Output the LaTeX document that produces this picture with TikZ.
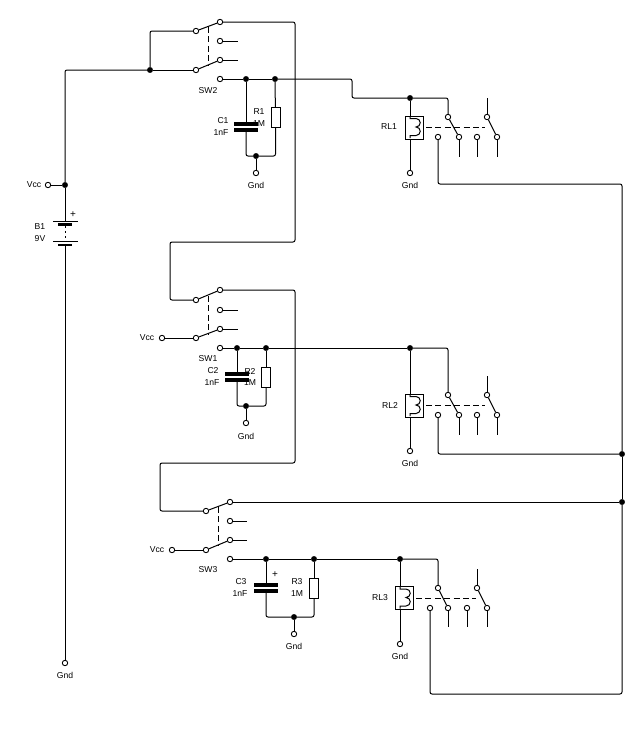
\documentclass[tikz,border=0pt]{standalone}
\usepackage{fontspec}
\setmainfont{Liberation Sans}
\usepackage{tikz}
\tikzstyle{term} = [draw, line width=0.9pt, circle, fill=white, inner sep=0pt, minimum size=5.4pt]
\tikzstyle{junc} = [draw, circle, fill=black, inner sep=0pt, minimum size=5.4pt]
\tikzstyle{output} = [coordinate]
\tikzstyle{wire} = [line width=1pt, rounded corners=2pt]
\tikzstyle{link} = [line width=1pt, dash pattern=on 6pt off 3.4pt]
\tikzstyle{res} = [draw, line width=1pt, rectangle, inner sep=0pt, minimum width=9pt, minimum height=20pt]
\tikzstyle{relay} = [draw, line width=1pt, rectangle, inner sep=0pt, minimum width=18pt, minimum height=23pt]
\tikzstyle{plate} = [fill=black, rectangle, inner sep=0pt, outer sep=0pt, minimum width=24pt, minimum height=3.2pt]
\tikzstyle{longcell} = [fill=black, rectangle, inner sep=0pt, outer sep=0pt, minimum width=25pt, minimum height=1pt]
\tikzstyle{shortcell} = [fill=black, rectangle, inner sep=0pt, outer sep=0pt, minimum width=14pt, minimum height=2.6pt]
\tikzstyle{txt} = [inner sep=0pt, font=\fontsize{8.6}{9}\selectfont]
\newcommand{\coil}[3]{\draw [wire, rounded corners=0pt] (#1,#2) -- ++(0,2.5) -- ++(6,0)
    arc [start angle=-90, end angle=90, radius=#3] arc [start angle=-90, end angle=90, radius=#3] -- ++(-6,0) -- ++(0,2.5);}

\begin{document}
\begin{tikzpicture}[x=1pt, y=-1pt]
    \useasboundingbox (0,0) rectangle (640,736);
    % Battery and its supply rail
    \node [term] (vcca) at (48,185) {};
    \node [junc] (vccdot) at (65,185) {};
    \node [longcell] (b1a) at (65,221) {};
    \node [shortcell] (b1b) at (65,224.5) {};
    \node [longcell] (b1c) at (65,241) {};
    \node [shortcell] (b1d) at (65,245) {};
    \node [term] (gnda) at (65,663) {};
    \node [output] (railtop) at (65,70) {};
    \draw [wire] (vcca) -- (vccdot);
    \draw [wire] (vccdot) -- (railtop) -- (150,70);
    \draw [wire] (vccdot) -- (b1a);
    \draw [link, dash pattern=on 2.5pt off 2.5pt] (b1b) -- (b1c);
    \draw [wire] (b1d) -- (gnda);
    \node [txt] (vcclbla) at (34,185) {Vcc};
    \node [txt, font=\fontsize{10}{10}\selectfont] (pluslbla) at (73,215) {+};
    \node [txt] (b1lbl) at (40,226.5) {B1};
    \node [txt] (b1val) at (40,239) {9V};
    \node [txt] (gndlbla) at (65,675.5) {Gnd};

    % Switch SW2 with C1 and R1
    \node [junc] (sw2in) at (150,70) {};
    \node [term] (sw2a) at (196,31) {};
    \node [term] (sw2b) at (220,22) {};
    \node [term] (sw2c) at (220,41) {};
    \node [term] (sw2d) at (196,70) {};
    \node [term] (sw2e) at (220,60) {};
    \node [term] (sw2f) at (220,79) {};
    \node [output] (sw2cend) at (238,41) {};
    \node [output] (sw2eend) at (238,60) {};
    \node [output] (sw2linka) at (208,27) {};
    \node [output] (sw2linkb) at (208,65) {};
    \node [junc] (c1dot) at (246,79) {};
    \node [junc] (r1dot) at (275,79) {};
    \node [plate] (c1a) at (246,124) {};
    \node [plate] (c1b) at (246,130) {};
    \node [res] (r1) at (275.5,117.5) {};
    \node [junc] (sw2low) at (256,156) {};
    \node [term] (gndb) at (256,173) {};
    \draw [wire] (sw2in) -- (sw2d);
    \draw [wire] (sw2in) |- (sw2a);
    \draw [wire] (sw2a) -- (sw2b);
    \draw [wire] (sw2d) -- (sw2e);
    \draw [wire] (sw2c) -- (sw2cend);
    \draw [wire] (sw2e) -- (sw2eend);
    \draw [link] (sw2linka) -- (sw2linkb);
    \draw [wire] (sw2f) -- (c1dot);
    \draw [wire] (c1dot) -- (r1dot);
    \draw [wire] (c1dot) -- (c1a);
    \draw [wire] (c1b) |- (sw2low);
    \draw [wire] (r1dot) -- (r1);
    \draw [wire] (r1) |- (sw2low);
    \draw [wire] (sw2low) -- (gndb);
    \node [txt] (sw2lbl) at (208,90.5) {SW2};
    \node [txt] (c1lbl) at (223,120.5) {C1};
    \node [txt] (c1val) at (221,133) {1nF};
    \node [txt] (r1lbl) at (259,112) {R1};
    \node [txt] (r1val) at (259,124) {1M};
    \node [txt] (gndlblb) at (256,185.5) {Gnd};

    % Relay RL1
    \node [junc] (rl1dot) at (410,98) {};
    \node [relay] (rl1) at (414,127.5) {};
    \node [term] (gndc) at (410,173) {};
    \node [term] (rl1a) at (448,117) {};
    \node [term] (rl1b) at (459,137) {};
    \node [term] (rl1c) at (438,137) {};
    \node [term] (rl1d) at (477,137) {};
    \node [term] (rl1e) at (487,117) {};
    \node [term] (rl1f) at (497,137) {};
    \node [output] (rl1linka) at (426,127) {};
    \node [output] (rl1linkb) at (485,127) {};
    \node [output] (rl1corner) at (622,184) {};
    \node [output] (rl1etop) at (487,98) {};
    \node [output] (rl1bend) at (459,157) {};
    \node [output] (rl1dend) at (477,157) {};
    \node [output] (rl1fend) at (497,157) {};
    \node [output] (sw2stepa) at (352,79) {};
    \node [output] (sw2stepb) at (352,98) {};
    \draw [wire] (r1dot) -- (sw2stepa) -- (sw2stepb) -- (rl1dot);
    \draw [wire] (rl1dot) -| (rl1a);
    \draw [wire] (rl1dot) -- (rl1dot |- rl1.north);
    \coil{410}{116}{4.25}
    \draw [wire] (rl1dot |- rl1.south) -- (gndc);
    \draw [wire] (rl1a) -- (rl1b);
    \draw [wire] (rl1e) -- (rl1f);
    \draw [wire] (rl1e) -- (rl1etop);
    \draw [wire] (rl1b) -- (rl1bend);
    \draw [wire] (rl1d) -- (rl1dend);
    \draw [wire] (rl1f) -- (rl1fend);
    \draw [link] (rl1linka) -- (rl1linkb);
    \node [txt] (rl1lbl) at (389,127) {RL1};
    \node [txt] (gndlblc) at (410,185.5) {Gnd};

    % Switch SW1 with C2 and R2
    \node [term] (sw1a) at (196,300) {};
    \node [term] (sw1b) at (220,290) {};
    \node [term] (sw1c) at (220,310) {};
    \node [term] (sw1d) at (196,338) {};
    \node [term] (sw1e) at (220,329) {};
    \node [term] (sw1f) at (220,348) {};
    \node [term] (vccb) at (162,338) {};
    \node [output] (sw1cend) at (238,310) {};
    \node [output] (sw1eend) at (238,329) {};
    \node [output] (sw1linka) at (208,296) {};
    \node [output] (sw1linkb) at (208,334) {};
    \node [junc] (c2dot) at (237,348) {};
    \node [junc] (r2dot) at (266,348) {};
    \node [plate] (c2a) at (237,374) {};
    \node [plate] (c2b) at (237,380) {};
    \node [res] (r2) at (266,377) {};
    \node [junc] (sw1low) at (246,406) {};
    \node [term] (gndd) at (246,423) {};
    \node [output] (sw2runa) at (295,22) {};
    \node [output] (sw2runb) at (295,242) {};
    \node [output] (sw2runc) at (170,242) {};
    \node [output] (sw2rund) at (170,300) {};
    \draw [wire] (sw2b) -- (sw2runa) -- (sw2runb) -- (sw2runc) -- (sw2rund) -- (sw1a);
    \draw [wire] (sw1a) -- (sw1b);
    \draw [wire] (vccb) -- (sw1d);
    \draw [wire] (sw1d) -- (sw1e);
    \draw [wire] (sw1c) -- (sw1cend);
    \draw [wire] (sw1e) -- (sw1eend);
    \draw [link] (sw1linka) -- (sw1linkb);
    \draw [wire] (sw1f) -- (c2dot);
    \draw [wire] (c2dot) -- (r2dot);
    \draw [wire] (c2dot) -- (c2a);
    \draw [wire] (c2b) |- (sw1low);
    \draw [wire] (r2dot) -- (r2);
    \draw [wire] (r2) |- (sw1low);
    \draw [wire] (sw1low) -- (gndd);
    \node [txt] (vcclblb) at (147,338) {Vcc};
    \node [txt] (sw1lbl) at (208,359) {SW1};
    \node [txt] (c2lbl) at (213,371) {C2};
    \node [txt] (c2val) at (212,383) {1nF};
    \node [txt] (r2lbl) at (250,371) {R2};
    \node [txt] (r2val) at (250,383) {1M};
    \node [txt] (gndlbld) at (246,436) {Gnd};

    % Relay RL2
    \node [junc] (rl2dot) at (410,348) {};
    \node [relay] (rl2) at (414,405.5) {};
    \node [term] (gnde) at (410,451) {};
    \node [term] (rl2a) at (448,395) {};
    \node [term] (rl2b) at (459,415) {};
    \node [term] (rl2c) at (438,415) {};
    \node [term] (rl2d) at (477,415) {};
    \node [term] (rl2e) at (487,395) {};
    \node [term] (rl2f) at (497,415) {};
    \node [output] (rl2linka) at (426,405) {};
    \node [output] (rl2linkb) at (485,405) {};
    \node [output] (rl2etop) at (487,376) {};
    \node [output] (rl2bend) at (459,435) {};
    \node [output] (rl2dend) at (477,435) {};
    \node [output] (rl2fend) at (497,435) {};
    \draw [wire] (r2dot) -- (rl2dot);
    \draw [wire] (rl2dot) -| (rl2a);
    \draw [wire] (rl2dot) -- (rl2dot |- rl2.north);
    \coil{410}{394}{4.25}
    \draw [wire] (rl2dot |- rl2.south) -- (gnde);
    \draw [wire] (rl2a) -- (rl2b);
    \draw [wire] (rl2e) -- (rl2f);
    \draw [wire] (rl2e) -- (rl2etop);
    \draw [wire] (rl2b) -- (rl2bend);
    \draw [wire] (rl2d) -- (rl2dend);
    \draw [wire] (rl2f) -- (rl2fend);
    \draw [link] (rl2linka) -- (rl2linkb);
    \node [txt] (rl2lbl) at (390,405) {RL2};
    \node [txt] (gndlble) at (410,463.5) {Gnd};

    % Switch SW3 with C3 and R3
    \node [term] (sw3a) at (206,511) {};
    \node [term] (sw3b) at (230,502) {};
    \node [term] (sw3c) at (230,521) {};
    \node [term] (sw3d) at (206,550) {};
    \node [term] (sw3e) at (230,540) {};
    \node [term] (sw3f) at (230,559) {};
    \node [term] (vccc) at (172,550) {};
    \node [output] (sw3cend) at (247,521) {};
    \node [output] (sw3eend) at (247,540) {};
    \node [output] (sw3linka) at (218,507) {};
    \node [output] (sw3linkb) at (218,545) {};
    \node [junc] (c3dot) at (266,559) {};
    \node [junc] (r3dot) at (314,559) {};
    \node [plate] (c3a) at (266,585) {};
    \node [plate] (c3b) at (266,591) {};
    \node [res] (r3) at (314,588) {};
    \node [junc] (sw3low) at (294,617) {};
    \node [term] (gndf) at (294,634) {};
    \node [output] (sw1runa) at (295,290) {};
    \node [output] (sw1runb) at (295,463) {};
    \node [output] (sw1runc) at (160,463) {};
    \node [output] (sw1rund) at (160,511) {};
    \draw [wire] (sw1b) -- (sw1runa) -- (sw1runb) -- (sw1runc) -- (sw1rund) -- (sw3a);
    \draw [wire] (sw3a) -- (sw3b);
    \draw [wire] (vccc) -- (sw3d);
    \draw [wire] (sw3d) -- (sw3e);
    \draw [wire] (sw3c) -- (sw3cend);
    \draw [wire] (sw3e) -- (sw3eend);
    \draw [link] (sw3linka) -- (sw3linkb);
    \draw [wire] (sw3f) -- (c3dot);
    \draw [wire] (c3dot) -- (r3dot);
    \draw [wire] (c3dot) -- (c3a);
    \draw [wire] (c3b) |- (sw3low);
    \draw [wire] (r3dot) -- (r3);
    \draw [wire] (r3) |- (sw3low);
    \draw [wire] (sw3low) -- (gndf);
    \node [txt] (vcclblc) at (157,550) {Vcc};
    \node [txt] (sw3lbl) at (208,570) {SW3};
    \node [txt, font=\fontsize{10}{10}\selectfont] (pluslblb) at (275,575) {+};
    \node [txt] (c3lbl) at (241,582) {C3};
    \node [txt] (c3val) at (240,594) {1nF};
    \node [txt] (r3lbl) at (297,582) {R3};
    \node [txt] (r3val) at (297,594) {1M};
    \node [txt] (gndlblf) at (294,646.5) {Gnd};

    % Relay RL3
    \node [junc] (rl3dot) at (400,559) {};
    \node [relay] (rl3) at (404,598) {};
    \node [term] (gndg) at (400,644) {};
    \node [term] (rl3a) at (438,588) {};
    \node [term] (rl3b) at (448,608) {};
    \node [term] (rl3c) at (430,608) {};
    \node [term] (rl3d) at (467,608) {};
    \node [term] (rl3e) at (477,588) {};
    \node [term] (rl3f) at (487,608) {};
    \node [output] (rl3linka) at (416,598) {};
    \node [output] (rl3linkb) at (476,598) {};
    \node [output] (rl3etop) at (477,569) {};
    \node [output] (rl3bend) at (448,627) {};
    \node [output] (rl3dend) at (467,627) {};
    \node [output] (rl3fend) at (487,627) {};
    \draw [wire] (r3dot) -- (rl3dot);
    \draw [wire] (rl3dot) -| (rl3a);
    \draw [wire] (rl3dot) -- (rl3dot |- rl3.north);
    \coil{400}{586.5}{4.25}
    \draw [wire] (rl3dot |- rl3.south) -- (gndg);
    \draw [wire] (rl3a) -- (rl3b);
    \draw [wire] (rl3e) -- (rl3f);
    \draw [wire] (rl3e) -- (rl3etop);
    \draw [wire] (rl3b) -- (rl3bend);
    \draw [wire] (rl3d) -- (rl3dend);
    \draw [wire] (rl3f) -- (rl3fend);
    \draw [link] (rl3linka) -- (rl3linkb);
    \node [txt] (rl3lbl) at (380,598) {RL3};
    \node [txt] (gndlblg) at (400,656.5) {Gnd};

    % Common return on the right
    \node [junc] (retb) at (622,454) {};
    \node [junc] (retc) at (622,502) {};
    \node [output] (retd) at (622,694) {};
    \node [output] (rete) at (430,694) {};
    \draw [wire] (rl1c) |- (rl1corner) -- (retb);
    \draw [wire] (rl2c) |- (retb);
    \draw [wire] (retb) -- (retc);
    \draw [wire] (sw3b) -- (retc);
    \draw [wire] (retc) -- (retd) -- (rete) -- (rl3c);
\end{tikzpicture}
\end{document}
